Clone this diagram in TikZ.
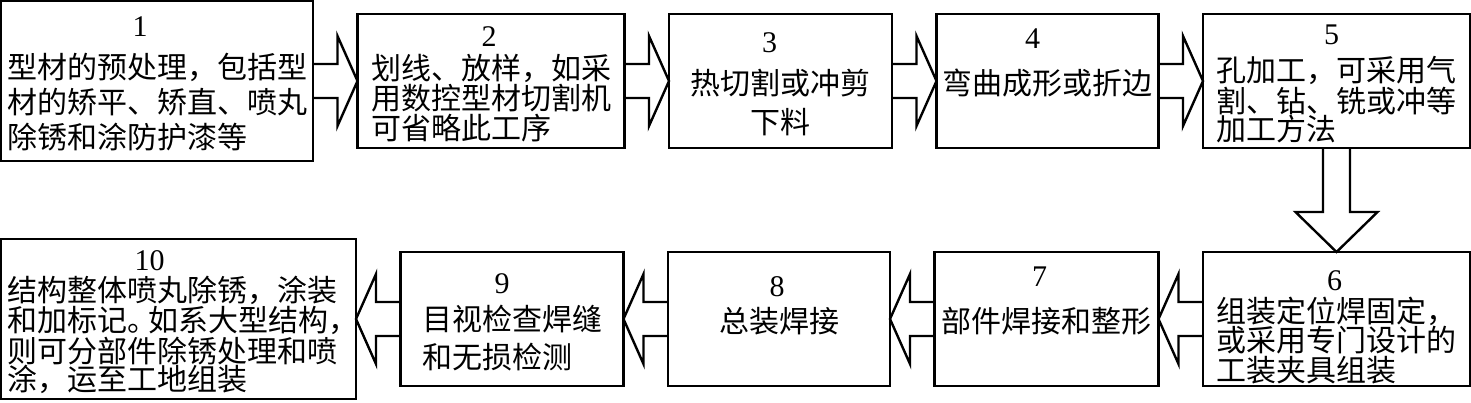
\documentclass[tikz,border=0pt]{standalone}
\usepackage{fontspec}
\setmainfont{Liberation Serif}
\newfontfamily\cjk{Noto Sans CJK SC}
\usepackage{tikz}
\usetikzlibrary{positioning, calc}

% step number over a text block of width #2 (optional shift to the left)
\newcommand{\stepnum}[3][0pt]{\makebox[#2]{\rule{0pt}{13pt}{\rmfamily #3}\hspace{#1}}}

\begin{document}
\begin{tikzpicture}[node distance=22.25pt,
    stepbox/.style={rectangle, draw, line width=1.4pt, inner sep=0pt, outer sep=0pt, minimum height=67pt,
      font=\cjk\fontsize{15pt}{#1}\selectfont},
    stepbox/.default=15pt,
    flowarrow/.style={line width=1.2pt, line join=miter}]
  \useasboundingbox (0,0) rectangle (735.5pt,-201pt);

  % top row
  \node[stepbox=17.5pt, minimum width=156pt, minimum height=80pt, align=left] (b1) at (78.5pt,-40.5pt)
    {\stepnum[17pt]{10em}{1}\\[3.5pt]型材的预处理，包括型\\材的矫平、矫直、喷丸\\除锈和涂防护漆等};
  \node[stepbox=14.8pt, minimum width=133.5pt, align=left, right=of b1] (b2)
    {\stepnum[2pt]{8em}{2}\\[2pt]划线、放样，如采\\用数控型材切割机\\可省略此工序};
  \node[stepbox=19.5pt, minimum width=111.5pt, align=center, right=of b2] (b3)
    {\stepnum[11pt]{0pt}{3}\\[1.5pt]热切割或冲剪\\下料};
  \node[stepbox=23pt, minimum width=111pt, align=center, right=of b3] (b4)
    {\stepnum[15pt]{0pt}{4}\\弯曲成形或折边\\ \mbox{}};
  \node[stepbox=14pt, minimum width=133.5pt, align=left, right=of b4] (b5)
    {\stepnum[5pt]{8em}{5}\\[4.5pt]孔加工，可采用气\\割、钻、铣或冲等\\加工方法};

  % bottom row
  \node[stepbox=14.7pt, minimum width=133.5pt, align=left, below=52pt of b5] (b6)
    {\stepnum[2pt]{8em}{6\rule{0pt}{18pt}}\\[1.5pt]组装定位焊固定，\\或采用专门设计的\\工装夹具组装};
  \node[stepbox=23pt, minimum width=112pt, align=center, left=of b6] (b7)
    {\stepnum[7pt]{0pt}{7}\\部件焊接和整形\\ \mbox{}};
  \node[stepbox=18pt, minimum width=111pt, align=center, left=of b7] (b8)
    {\stepnum[2pt]{0pt}{8}\\总装焊接\\ \mbox{}};
  \node[stepbox=18.7pt, minimum width=111.5pt, align=left, left=of b8] (b9)
    {\stepnum[10pt]{6em}{9}\\目视检查焊缝\\和无损检测};
  \node[stepbox=14pt, minimum width=177.5pt, minimum height=80pt, align=left, left=of b9] (b10)
    {\stepnum[29pt]{11.4em}{10}\\[1.5pt]结构整体喷丸除锈，涂装\\和加标记\makebox[.7em][l]{。}如系大型结构\makebox[.7em][l]{，}\\则可分部件除锈处理和喷\\涂，运至工地组装};

  % hollow arrows
  \foreach \from/\to in {b1/b2, b2/b3, b3/b4, b4/b5}
    \draw[flowarrow] ($(\from.east)+(0,8.5pt)$) -- ($(\to.west)+(-10pt,8.5pt)$) -- ($(\to.west)+(-10pt,22.5pt)$)
      -- (\to.west) -- ($(\to.west)+(-10pt,-22.5pt)$) -- ($(\to.west)+(-10pt,-8.5pt)$) -- ($(\from.east)+(0,-8.5pt)$);
  \foreach \from/\to in {b6/b7, b7/b8, b8/b9, b9/b10}
    \draw[flowarrow] ($(\from.west)+(0,8.5pt)$) -- ($(\to.east)+(10pt,8.5pt)$) -- ($(\to.east)+(10pt,22.5pt)$)
      -- (\to.east) -- ($(\to.east)+(10pt,-22.5pt)$) -- ($(\to.east)+(10pt,-8.5pt)$) -- ($(\from.west)+(0,-8.5pt)$);
  \draw[flowarrow] ($(b5.south)+(-6.75pt,0)$) -- ($(b6.north)+(-6.75pt,20pt)$) -- ($(b6.north)+(-20.5pt,20pt)$)
    -- (b6.north) -- ($(b6.north)+(20.5pt,20pt)$) -- ($(b6.north)+(6.75pt,20pt)$) -- ($(b5.south)+(6.75pt,0)$);
\end{tikzpicture}
\end{document}
